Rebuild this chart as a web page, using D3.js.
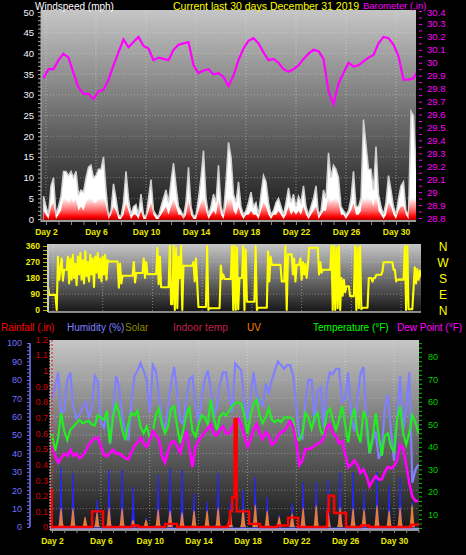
<!DOCTYPE html>
<html>
<head>
<meta charset="utf-8">
<script src="https://cdn.jsdelivr.net/npm/d3@7"></script>
<style>
  body { margin: 0; background: #000; }
  svg text { font-family: "Liberation Sans", Arial, sans-serif; }
</style>
</head>
<body>
<svg id="chart" width="466" height="555"></svg>
<script>
// ---- data ----
const dayTicks = [2, 6, 10, 14, 18, 22, 26, 30];

// wind (mph), sampled every 0.2 day from day 1.8
const gustStart = 1.8, gustStep = 0.2;
const windGust = [5.5,3,1,8,10,1,3,5.5,11.5,11.5, 10.5,11.5,10,11.5,6,7,6.5,10,12.5,13,
  10,10.5,12,12,15,7,0.5,2,8.5,5, 1,0.5,4,11.5,5,1,3,3.5,1,6,
  1,0.5,5,9.5,2,1,0.5,3,5,7, 4,9,13.5,8,3,2,0.5,4,12.5,3,
  0.5,1,5,10,16.5,5,1,3,6,4, 13,3,1,9,18.5,15,6,4,9,3,
  1,2,4,6.5,3,4,1,6,10.5,9, 4,1,2,4,5,3,1,4,7.5,4,
  6,3,5.5,4,8,3,1,3,5,8, 1,2,7,5,16,10,13,12,10,3,
  2,1,2,5,11.5,3,3,5,24,18, 12,12,7,17.5,6,3,1,4,10.5,7,
  3,1,5,8,9,2,1,26,25,13, 8];
const windSpeed = [2,1,0,3,4,0,1,2,5,5, 4,5,4,5,2,3,2,4,5,6,
  4,4,5,5,6,3,0,1,3,2, 0,0,1,4,2,0,1,1,0,2,
  0,0,2,4,1,0,0,1,2,3, 1,3,5,3,1,1,0,1,5,1,
  0,0,2,4,6,2,0,1,2,1, 5,1,0,3,7,6,2,1,3,1,
  0,1,1,2,1,1,0,2,4,3, 1,0,1,1,2,1,0,1,3,1,
  2,1,2,1,3,1,0,1,2,3, 0,1,2,2,6,4,5,5,4,1,
  1,0,1,2,4,1,1,2,9,7, 5,5,3,7,2,1,0,1,4,3,
  1,0,2,3,3,1,0,10,9,5, 3];

// barometer (in), every 0.4 day from day 1.8
const baroStart = 1.8, baroStep = 0.4;
const barometer = [29.88,29.95,29.95,30.02,30.07,30.04,29.92,29.81,29.76,29.76,
  29.72,29.78,29.79,29.87,29.98,30.08,30.18,30.12,30.16,30.20,
  30.13,30.11,30.02,30.04,30.03,30.02,30.10,30.14,30.15,30.16,
  29.98,29.92,29.94,29.95,29.91,29.92,29.89,29.82,29.90,30.02,
  30.11,30.17,30.19,30.15,30.08,30.02,30.03,30.00,29.95,29.93,
  29.95,29.98,30.03,30.07,30.10,30.09,30.03,29.78,29.68,29.84,
  29.92,30.00,29.97,29.98,30.01,30.04,30.06,30.15,30.20,30.19,
  30.14,30.05,29.87,29.87,29.88,29.95];

// wind direction (deg), every 0.1 day from day 1.6
const dirStart = 1.6, dirStep = 0.1;
const windDir = [135,85,85,85,85,85,85,0,300,170,
  230,290,165,226,226,226,300,150,290,170,
  310,180,260,140,300,200,320,170,280,150,
  330,190,270,160,310,200,290,130,300,210,
  320,180,290,160,300,200,310,170,280,273,
  273,273,273,273,273,273,273,125,260,150,
  193,193,193,193,193,193,193,193,193,270,
  155,208,208,208,208,208,208,290,180,270,
  202,202,202,202,202,202,202,202,350,145,
  300,128,128,128,128,128,128,128,360,32,
  32,360,0,350,10,300,180,360,0,250,
  249,249,249,249,249,249,249,270,160,290,
  150,17,17,17,17,17,17,17,360,0,
  10,10,10,10,10,10,10,10,10,250,
  174,200,174,174,174,174,174,174,360,0,
  360,0,350,5,180,180,180,360,0,340,
  46,46,46,46,46,46,46,360,0,13,
  13,13,13,13,13,13,13,330,160,300,
  254,254,254,254,254,254,254,254,161,161,
  161,360,0,313,313,313,313,200,290,160,
  254,254,254,290,170,270,200,260,180,250,
  350,350,350,350,350,350,350,350,200,270,
  210,226,226,226,226,226,226,226,360,0,
  360,0,350,10,360,0,180,80,170,100,
  134,134,134,78,78,78,78,360,0,350,
  10,360,5,13,13,13,13,13,180,180,
  180,160,180,180,198,198,198,198,198,217,
  269,269,269,269,269,269,269,269,226,226,
  161,171,171,171,171,171,171,360,0,360,
  4,4,4,4,120,240,150,230,170,220,
  190,240,200];
const dirTicks = [0, 90, 180, 270, 360];
const compass = ["N", "W", "S", "E", "N"];

// lower panel, every 0.25 day from day 2.0
const lineStart = 2.0, lineStep = 0.25;
const humidity = [70,76,84,62,63,80,84,65,59,61,
  65,68,60,64,82,79,57,54,61,45,
  63,82,76,60,52,47,68,82,85,89,
  85,80,62,88,85,72,58,52.5,65,78,
  87,73,58,56,70,80,82,66,56,70,
  80,85,75,60,66,78,84,84,72,62,
  89,87,85,67,58,70,84,72,68,66,
  78,73,80,85,90,88,86,88,88,82,
  66,49,48,69,80,80,57,74,76,54,
  76,84,83,86,86,68,70,84,60,52,
  70,83,87,54,40,47,52,37,42,65,
  72,52,36,60,82,52,65,84,24,31,
  34];
const temperature = [46,38,44,55,47,43,47.6,49,50.5,52,
  50.5,51,51.5,50,49.5,54,53,52,56,41.7,
  53.5,59,55,47.6,43,50.5,55,54,56,49,
  46,49,44,47,54,57,50,46,49,57,
  58,49,41.7,47.6,54,58,47,44.6,50,54,
  53,50,61,52.5,47.6,53.5,55,54,56,58,
  59.4,59.7,59,54,46,53.5,59,61,54,50.5,
  53,57,52,51,52,51,53,53,53,52,
  44,43,46,55,53,48,53,55,47,45,
  55,57,52,47.6,52,58,50,42,52,57,
  46,42,56,52,37.3,44,55,45,36,45,
  46,40,38,52,58,46,41,46,54,51,
  46];
const dewPoint = [40,36,33,35,37,36,38.7,36,37,35,
  36,38,41,42.5,44,44,40.5,36.5,35.8,37.3,
  38.7,37,37,36,35,34.5,37.5,40.5,42,44,
  41.5,40,43,47,45,43.5,36,33,38,42,
  42.5,40,37.3,43,47,39,31,40,43,44.5,
  46.5,48,50,46,45,47.6,49,46,46,48.5,
  51,52.5,49.5,45,40,43,47.6,50,46,43.5,
  46.5,45,41,42,45,46.5,47,49,51.5,49,
  42,32,34,39,39,39.5,40.5,41.5,42,44,
  49,50,46,44.6,41.7,42.5,37,31,32,34,
  32,28.5,30,27,22.5,25,27,25.5,25.5,29,
  31,30.5,31.4,34,41,39,32,24,18,16,
  16];

// rainfall (in), step values starting at each day
const rainDays = [1.84,1.98,5.28,6.18,8.56,9.05,11.26,12.24,16.4,16.58,16.75,16.95,17.12,
  18.14,19.04,20.43,21.33,22.15,24.53,24.65,25.1,26.08,27.31,27.97,31.41,32.06];
const rainValues = [0.23,0,0.1,0,0.01,0,0.02,0,0.02,0.1,0.19,0.69,0.1,
  0.02,0,0.01,0.06,0,0.1,0.2,0.09,0,0.01,0,0.015,0.015];

// daily solar (W/m2) and UV peaks
const solarDays = [2.74,3.72,4.71,5.69,6.67,7.74,8.64,9.70,10.69,11.67,12.65,13.63,14.70,15.60,16.59,
  17.65,18.64,19.62,20.60,21.66,22.56,23.63,24.61,25.59,26.65,27.55,28.61,29.60,30.50,31.48];
const solarPeak = [500,450,83,225,475,475,333,75,433,490,475,283,208,450,200,
  308,417,250,100,200,375,375,392,458,458,308,458,350,417,208];
const uvPeak = [3.2,3.2,1.7,2.5,3.3,3.2,1.2,1.2,3.0,2.8,2.5,2.8,2.8,3.3,2.8,
  3.0,3.8,2.8,1.7,2.3,3.3,3.7,2.5,3.3,3.2,3.0,3.7,2.8,3.3,3.8];

// ---- drawing ----
const svg = d3.select("#chart");
const defs = svg.append("defs");

svg.append("rect").attr("width", 466).attr("height", 555).attr("fill", "#000");

const bg = defs.append("linearGradient").attr("id", "panelBg")
  .attr("x1", 0).attr("y1", 0).attr("x2", 0).attr("y2", 1);
bg.append("stop").attr("offset", 0).attr("stop-color", "#c6c6c6");
bg.append("stop").attr("offset", 1).attr("stop-color", "#161616");

// wind speed fill: dark red at the ground, fading to white
const red = defs.append("linearGradient").attr("id", "redFade")
  .attr("gradientUnits", "userSpaceOnUse")
  .attr("x1", 0).attr("y1", 221).attr("x2", 0).attr("y2", 198);
red.append("stop").attr("offset", 0).attr("stop-color", "#900000");
red.append("stop").attr("offset", 0.18).attr("stop-color", "#ff0000");
red.append("stop").attr("offset", 0.45).attr("stop-color", "#ff6060");
red.append("stop").attr("offset", 1).attr("stop-color", "#ffffff");

const topP = {left: 41, right: 416, top: 10, bottom: 222};
const midP = {left: 48, right: 421, top: 244, bottom: 312};
const botP = {left: 50, right: 419, top: 340, bottom: 530};

const xTop = d3.scaleLinear().domain([1.6, 31.6]).range([topP.left, topP.right]);
const yWind = d3.scaleLinear().domain([0, 50]).range([219, 12]);
const yBaro = d3.scaleLinear().domain([28.8, 30.4]).range([218, 11]);
const xMid = d3.scaleLinear().domain([1.6, 31.6]).range([midP.left, midP.right]);
const yDir = d3.scaleLinear().domain([0, 360]).range([310, 246]);
const xBot = d3.scaleLinear().domain([2, 30]).range([52, 394]);
const yHum = d3.scaleLinear().domain([0, 100]).range([527, 343]);
const yRain = d3.scaleLinear().domain([0, 1]).range([527, 370.7]);
const yTemp = d3.scaleLinear().domain([10, 80]).range([514.5, 356.7]);
const ySolar = d3.scaleLinear().domain([0, 1000]).range([527, 407]);
const yUV = d3.scaleLinear().domain([0, 10]).range([527, 467]);

function panel(p, id) {
  svg.append("rect")
    .attr("x", p.left).attr("y", p.top)
    .attr("width", p.right - p.left).attr("height", p.bottom - p.top)
    .attr("fill", "url(#panelBg)");
  defs.append("clipPath").attr("id", id).append("rect")
    .attr("x", p.left).attr("y", p.top)
    .attr("width", p.right - p.left).attr("height", p.bottom - p.top);
  return svg.append("g").attr("clip-path", `url(#${id})`);
}

function grid(g, p, xs, ys) {
  g.append("g").selectAll("line").data(xs).enter().append("line")
    .attr("x1", d => d).attr("x2", d => d).attr("y1", p.top).attr("y2", p.bottom)
    .attr("stroke", "rgba(235,235,235,0.45)").attr("stroke-dasharray", "1,2");
  g.append("g").selectAll("line").data(ys).enter().append("line")
    .attr("y1", d => d).attr("y2", d => d).attr("x1", p.left).attr("x2", p.right)
    .attr("stroke", "rgba(235,235,235,0.35)").attr("stroke-dasharray", "1,2");
}

function styleAxis(g, color, size, bold) {
  g.select(".domain").remove();
  g.selectAll("text").attr("fill", color).style("font-size", size + "px")
    .style("font-weight", bold ? "bold" : "normal");
  g.selectAll("line").attr("stroke", color);
}

function header(txt, x, y, color, size) {
  svg.append("text").attr("x", x).attr("y", y).attr("fill", color)
    .style("font-size", size + "px").text(txt);
}

// ===== top panel: wind speed + barometer =====
const gTop = panel(topP, "clipTop");
grid(gTop, topP, dayTicks.map(xTop), d3.range(5, 50, 5).map(yWind));

const gust = windGust.map((v, i) => ({day: gustStart + i * gustStep, v}));
const speed = windSpeed.map((v, i) => ({day: gustStart + i * gustStep, v}));
const windArea = d3.area().x(d => xTop(d.day)).y0(221).y1(d => yWind(d.v));

gTop.append("path").datum(gust).attr("d", windArea)
  .attr("fill", "#ffffff").attr("stroke", "#cfcfcf").attr("stroke-width", 1.5);
gTop.append("path").datum(speed).attr("d", windArea).attr("fill", "url(#redFade)");
gTop.append("line").attr("x1", topP.left).attr("x2", topP.right)
  .attr("y1", 221).attr("y2", 221).attr("stroke", "#9c9c9c").attr("stroke-width", 2);

const baro = barometer.map((v, i) => ({day: baroStart + i * baroStep, v}));
gTop.append("path").datum(baro)
  .attr("d", d3.line().x(d => xTop(d.day)).y(d => yBaro(d.v)))
  .attr("fill", "none").attr("stroke", "#ff00ff").attr("stroke-width", 2.2);

// left mph axis
svg.append("g").attr("transform", `translate(${topP.left},0)`)
  .call(d3.axisLeft(yWind).tickValues(d3.range(0, 51, 1)).tickSize(3).tickFormat(""))
  .call(g => styleAxis(g, "#a8a8a8", 9));
svg.append("g").attr("transform", `translate(${topP.left},0)`)
  .call(d3.axisLeft(yWind).tickValues(d3.range(0, 51, 5)).tickSize(0).tickPadding(7))
  .call(g => styleAxis(g, "#f2f2ff", 9.5));
svg.append("line").attr("x1", topP.left).attr("x2", topP.left)
  .attr("y1", topP.top).attr("y2", topP.bottom).attr("stroke", "#b0b0b0");

// right barometer axis
svg.append("g").attr("transform", `translate(419,0)`)
  .call(d3.axisRight(yBaro).tickValues(d3.range(576, 609).map(v => v / 20)).tickSize(3).tickFormat(""))
  .call(g => styleAxis(g, "#ff00ff", 9));
svg.append("g").attr("transform", `translate(419,0)`)
  .call(d3.axisRight(yBaro).tickValues(d3.range(288, 305).map(v => v / 10))
    .tickSize(0).tickPadding(8).tickFormat(d => String(+d.toFixed(1))))
  .call(g => styleAxis(g, "#ff00ff", 9.5))
  .call(g => g.selectAll(".tick text").filter(d => d > 30.35).attr("dy", "0.5em"));

// day ticks and labels under top panel
svg.append("g").attr("transform", `translate(0,${topP.bottom})`)
  .call(d3.axisBottom(xTop).tickValues(d3.range(2, 32)).tickSize(3).tickFormat(""))
  .call(g => styleAxis(g, "#8a8a8a", 9));
svg.append("g").attr("transform", `translate(0,227)`)
  .call(d3.axisBottom(xTop).tickValues(dayTicks).tickSize(0).tickPadding(2).tickFormat(d => "Day " + d))
  .call(g => styleAxis(g, "#eaea00", 8.5, true));

header("Windspeed (mph)", 35, 9.5, "#ffffff", 10);
header("Current last 30 days December 31 2019", 173, 9.5, "#ffff00", 10.5);
header("Barometer (.in)", 363, 9, "#ff00ff", 9.5);

// ===== middle panel: wind direction =====
const gMid = panel(midP, "clipMid");
grid(gMid, midP, dayTicks.map(xMid), [90, 180, 270].map(yDir));
const dir = windDir.map((v, i) => ({day: dirStart + i * dirStep, v}));
gMid.append("path").datum(dir)
  .attr("d", d3.line().x(d => xMid(d.day)).y(d => yDir(d.v)))
  .attr("fill", "none").attr("stroke", "#ffff00").attr("stroke-width", 2.1)
  .attr("stroke-linejoin", "round");
svg.append("line").attr("x1", midP.left).attr("x2", midP.left)
  .attr("y1", midP.top).attr("y2", midP.bottom).attr("stroke", "#c8c8c8").attr("stroke-width", 2);
svg.append("line").attr("x1", midP.left).attr("x2", midP.right)
  .attr("y1", midP.bottom).attr("y2", midP.bottom).attr("stroke", "#b4b4b4").attr("stroke-width", 1.5);

svg.append("g").attr("transform", `translate(${midP.left - 1},0)`)
  .call(d3.axisLeft(yDir).tickValues(d3.range(0, 361, 22.5)).tickSize(4).tickFormat(""))
  .call(g => styleAxis(g, "#b8b800", 9));
svg.append("g").attr("transform", `translate(${midP.left},0)`)
  .call(d3.axisLeft(yDir).tickValues(dirTicks).tickSize(0).tickPadding(8))
  .call(g => styleAxis(g, "#f0f000", 8.5, true));

svg.append("g").selectAll("text").data(compass).enter().append("text")
  .attr("x", 443).attr("y", (d, i) => yDir(dirTicks[dirTicks.length - 1 - i]) + 5)
  .attr("text-anchor", "middle").attr("fill", "#ffff00").style("font-size", "12px")
  .text(d => d);

// ===== bottom panel =====
const gBot = panel(botP, "clipBot");
grid(gBot, botP, dayTicks.map(xBot), d3.range(10, 100, 10).map(yHum));

const solar = solarDays.map((d, i) => ({day: d, v: solarPeak[i]}));
gBot.append("g").selectAll("path").data(solar).enter().append("path")
  .attr("d", d => {
    const b = ySolar(0), t = ySolar(d.v), c = xBot(d.day);
    return `M${xBot(d.day - 0.24)},${b} Q${xBot(d.day - 0.04)},${b} ${c},${t} Q${xBot(d.day + 0.04)},${b} ${xBot(d.day + 0.24)},${b} Z`;
  })
  .attr("fill", "#2626ff").attr("stroke", "#2626ff").attr("stroke-width", 1.2);

const uv = solarDays.map((d, i) => ({day: d, v: uvPeak[i]}));
gBot.append("g").selectAll("path").data(uv).enter().append("path")
  .attr("d", d => {
    const b = yUV(0), t = yUV(d.v);
    return `M${xBot(d.day - 0.26)},${b} C${xBot(d.day - 0.13)},${b} ${xBot(d.day - 0.1)},${t} ${xBot(d.day)},${t}`
      + ` C${xBot(d.day + 0.1)},${t} ${xBot(d.day + 0.13)},${b} ${xBot(d.day + 0.26)},${b} Z`;
  })
  .attr("fill", "#ff8a1e").attr("fill-opacity", 0.88);

const lineOf = (arr, y) => d3.line().x((d, i) => xBot(lineStart + i * lineStep)).y(d => y(d))(arr);
gBot.append("path").attr("d", lineOf(humidity, yHum))
  .attr("fill", "none").attr("stroke", "#8080ff").attr("stroke-width", 2.2);
gBot.append("path").attr("d", lineOf(temperature, yTemp))
  .attr("fill", "none").attr("stroke", "#22ee22").attr("stroke-width", 2.2);
gBot.append("path").attr("d", lineOf(dewPoint, yTemp))
  .attr("fill", "none").attr("stroke", "#ff00ff").attr("stroke-width", 2.6);
gBot.append("line").attr("x1", botP.left).attr("x2", botP.right)
  .attr("y1", 528.5).attr("y2", 528.5).attr("stroke", "#9090ff").attr("stroke-width", 1.5);

const rain = rainDays.map((d, i) => ({day: d, v: rainValues[i]}));
gBot.append("path").datum(rain)
  .attr("d", d3.line().curve(d3.curveStepAfter).x(d => xBot(d.day)).y(d => yRain(d.v)))
  .attr("fill", "none").attr("stroke", "#ff0000").attr("stroke-width", 2.4);

svg.append("line").attr("x1", botP.left).attr("x2", botP.left)
  .attr("y1", botP.top).attr("y2", botP.bottom).attr("stroke", "#d0d0d0").attr("stroke-dasharray", "2,1");
svg.append("line").attr("x1", botP.left + 2).attr("x2", botP.left + 2)
  .attr("y1", botP.top).attr("y2", botP.bottom).attr("stroke", "#ff0000").attr("stroke-dasharray", "2,2");
svg.append("line").attr("x1", botP.left).attr("x2", botP.right)
  .attr("y1", botP.bottom).attr("y2", botP.bottom).attr("stroke", "#c0c0c0").attr("stroke-width", 1.5);

// humidity axis
svg.append("line").attr("x1", 30).attr("x2", 30).attr("y1", yHum(100)).attr("y2", yHum(0))
  .attr("stroke", "#7a7aff").attr("stroke-width", 1.5);
svg.append("g").attr("transform", "translate(30,0)")
  .call(d3.axisLeft(yHum).tickValues(d3.range(0, 101, 2)).tickSize(3).tickFormat(""))
  .call(g => styleAxis(g, "#6f6fff", 9));
svg.append("g").attr("transform", "translate(30,0)")
  .call(d3.axisLeft(yHum).tickValues(d3.range(0, 101, 10)).tickSize(0).tickPadding(8))
  .call(g => styleAxis(g, "#7272ff", 9));

// rain axis
svg.append("g").attr("transform", "translate(52,0)")
  .call(d3.axisLeft(yRain).tickValues(d3.range(0, 13).map(v => v / 10)).tickSize(0).tickPadding(4)
    .tickFormat(d => String(+d.toFixed(1))))
  .call(g => styleAxis(g, "#d00000", 9));

// temperature axis
svg.append("g").attr("transform", "translate(419,0)")
  .call(d3.axisRight(yTemp).tickValues(d3.range(4, 88, 2)).tickSize(3).tickFormat(""))
  .call(g => styleAxis(g, "#00c800", 9));
svg.append("g").attr("transform", "translate(419,0)")
  .call(d3.axisRight(yTemp).tickValues(d3.range(10, 81, 10)).tickSize(0).tickPadding(9))
  .call(g => styleAxis(g, "#00d000", 9));

// day ticks and labels under bottom panel
svg.append("g").attr("transform", `translate(0,${botP.bottom})`)
  .call(d3.axisBottom(xBot).tickValues(d3.range(2, 33)).tickSize(3).tickFormat(""))
  .call(g => styleAxis(g, "#8a8a8a", 9));
svg.append("g").attr("transform", "translate(0,536)")
  .call(d3.axisBottom(xBot).tickValues(dayTicks).tickSize(0).tickPadding(2).tickFormat(d => "Day " + d))
  .call(g => styleAxis(g, "#eaea00", 8.5, true));

header("Rainfall (.in)", 1, 331, "#ff0000", 10);
header("Humidity (%)", 67, 331, "#8080ff", 10);
header("Solar", 125, 331, "#8a8a00", 10);
header("Indoor temp", 173, 331, "#c0204c", 10.3);
header("UV", 247, 331, "#ff8000", 10);
header("Temperature (°F)", 313, 331, "#00ff00", 10);
header("Dew Point (°F)", 397, 331, "#ff00ff", 10);
</script>
</body>
</html>
